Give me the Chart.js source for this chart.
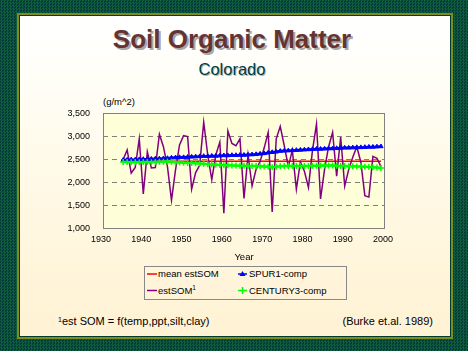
<!DOCTYPE html>
<html><head><meta charset="utf-8">
<script src="https://cdn.jsdelivr.net/npm/chart.js@4.4.1/dist/chart.umd.min.js"></script>
<style>
html,body{margin:0;padding:0;width:468px;height:351px;overflow:hidden;}
body{position:relative;background-color:#05403a;
  background-image:repeating-conic-gradient(#0f5d3a 0 25%, #023a3b 0 50%);background-size:3px 3px;
  font-family:'Liberation Sans',Arial,sans-serif;}
#panel{position:absolute;left:20px;top:16px;width:430px;height:320px;
  background:linear-gradient(to bottom,#ffffff 0%,#fffef6 22%,#fff8e2 60%,#fff2d4 100%);
  box-shadow:0 0 0 1px #033a2e,0 0 0 3px #7d8c1c;}
.abs{position:absolute;white-space:nowrap;}
#title{left:0;width:464px;top:26px;text-align:center;font:bold 26px/26px 'Liberation Sans',Arial,sans-serif;color:#663333;text-shadow:2px 2px 0 #a8a8a8;}
#sub{left:0;width:464px;top:61px;text-align:center;font:16.5px/16.5px 'Liberation Sans',Arial,sans-serif;color:#003c3c;text-shadow:1px 1px 0 #b4b4b4;}
#unit{left:103px;top:96px;font:9.5px/12px 'Liberation Sans',Arial,sans-serif;color:#000;}
#wrap{position:absolute;left:40px;top:95px;width:360px;height:170px;}
#legend{position:absolute;left:144px;top:266px;width:201px;height:32px;border:1px solid #888;}
.lt{position:absolute;white-space:nowrap;font:9.5px/12px 'Liberation Sans',Arial,sans-serif;color:#000;}
.foot{font:11px/13px 'Liberation Sans',Arial,sans-serif;color:#000;}
.sup{position:relative;top:-4px;font-size:6.5px;}
</style></head>
<body>
<div id="panel"></div>
<div id="title" class="abs">Soil Organic Matter</div>
<div id="sub" class="abs">Colorado</div>
<div id="unit" class="abs">(g/m^2)</div>
<div id="wrap"><canvas id="c" width="360" height="170"></canvas></div>
<div id="legend">
  <svg width="201" height="32" style="position:absolute;left:0;top:0">
    <line x1="2" y1="7" x2="12" y2="7" stroke="#ff0000" stroke-width="1.5"/>
    <line x1="2" y1="23.5" x2="12" y2="23.5" stroke="#800080" stroke-width="1.5"/>
    <line x1="93" y1="7" x2="102" y2="7" stroke="#0000ff" stroke-width="1.5"/>
    <polygon points="97.5,4 100.5,9 94.5,9" fill="#0000ff"/>
    <line x1="93" y1="23.5" x2="102" y2="23.5" stroke="#00ff00" stroke-width="1.5"/>
    <line x1="97.5" y1="20" x2="97.5" y2="27" stroke="#00ff00" stroke-width="1.5"/>
  </svg>
  <div class="lt" style="left:13px;top:1px">mean estSOM</div>
  <div class="lt" style="left:104px;top:1px">SPUR1-comp</div>
  <div class="lt" style="left:13px;top:17.5px">estSOM<span class="sup">1</span></div>
  <div class="lt" style="left:104px;top:17.5px">CENTURY3-comp</div>
</div>
<div class="abs foot" style="left:58px;top:315px"><span class="sup" style="font-size:7px;top:-3px">1</span>est SOM = f(temp,ppt,silt,clay)</div>
<div class="abs foot" style="right:35px;top:315px">(Burke et.al. 1989)</div>
<script>
const FIRST_YEAR = 1935;
const LAST_YEAR = 1999;
const X_TICKS = [1930, 1940, 1950, 1960, 1970, 1980, 1990, 2000];
const Y_TICKS = [1000, 1500, 2000, 2500, 3000, 3500];

// estSOM (annual, 1935-1999)
const EST_SOM = [
  2500, 2710, 2210, 2330, 2950, 1760, 2670, 2320, 2330, 3050,
  2780, 2350, 1620, 2280, 2820, 3020, 3000, 1860, 2220, 2380,
  3310, 2600, 2070, 2600, 2880, 1340, 3120, 2850, 2800, 2950,
  1660, 2600, 1930, 2290, 2460, 2750, 3090, 1370, 2950, 3220,
  2800, 2350, 2700, 1860, 2450, 2250, 1900, 2700, 3270, 1650,
  2290, 2780, 3090, 2140, 2990, 1930, 2290, 2550, 2780, 2450,
  1720, 1690, 2570, 2530, 2350
];
// SPUR1-comp (annual, 1935-1999)
const SPUR1 = [
  2490, 2495, 2500, 2500, 2505, 2510, 2510, 2515, 2520, 2520,
  2525, 2530, 2540, 2545, 2550, 2550, 2555, 2560, 2565, 2570,
  2575, 2575, 2580, 2580, 2585, 2590, 2590, 2595, 2595, 2600,
  2600, 2605, 2610, 2615, 2625, 2635, 2650, 2660, 2670, 2685,
  2690, 2695, 2700, 2705, 2710, 2715, 2720, 2725, 2730, 2730,
  2735, 2740, 2740, 2745, 2750, 2755, 2755, 2760, 2765, 2765,
  2770, 2775, 2775, 2780, 2785
];
// CENTURY3-comp (annual, 1935-1999)
const CENTURY3 = [
  2450, 2450, 2445, 2450, 2445, 2450, 2450, 2445, 2450, 2455,
  2455, 2460, 2455, 2445, 2440, 2435, 2430, 2425, 2420, 2415,
  2410, 2400, 2395, 2390, 2385, 2380, 2380, 2375, 2375, 2370,
  2370, 2365, 2360, 2360, 2355, 2350, 2345, 2335, 2345, 2355,
  2360, 2360, 2360, 2365, 2360, 2360, 2365, 2370, 2370, 2375,
  2375, 2375, 2375, 2370, 2365, 2360, 2355, 2355, 2350, 2350,
  2345, 2340, 2335, 2330, 2320
];
// mean estSOM (constant)
const MEAN_SOM = 2465;

const toXY = arr => arr.map((v, i) => ({x: FIRST_YEAR + i, y: v}));
const TICK_FONT = {family: "'Liberation Sans',Arial,sans-serif", size: 9};

const framePlugin = {
  id: 'frame',
  beforeDraw(chart) {
    const {ctx, chartArea: a} = chart;
    ctx.save();
    ctx.fillStyle = '#fefed8';
    ctx.fillRect(a.left, a.top, a.right - a.left, a.bottom - a.top);
    ctx.restore();
  },
  beforeDatasetsDraw(chart) {
    const {ctx, chartArea: a} = chart;
    ctx.save();
    ctx.strokeStyle = '#808080';
    ctx.lineWidth = 1;
    ctx.strokeRect(Math.round(a.left) + 0.5, Math.round(a.top) + 0.5, Math.round(a.right - a.left) - 1, Math.round(a.bottom - a.top) - 1);
    ctx.restore();
  }
};

new Chart(document.getElementById('c'), {
  type: 'line',
  data: {
    datasets: [
      {label: 'CENTURY3-comp', data: toXY(CENTURY3), borderColor: '#00ff00', backgroundColor: '#00ff00',
       borderWidth: 2.5, pointStyle: 'cross', pointRadius: 3, pointBorderWidth: 1.5, pointBorderColor: '#00ff00', order: 0},
      {label: 'SPUR1-comp', data: toXY(SPUR1), borderColor: '#0000ff', backgroundColor: '#0000ff',
       borderWidth: 2.5, pointStyle: 'triangle', pointRadius: 2.5, pointBorderWidth: 1, order: 1},
      {label: 'estSOM', data: toXY(EST_SOM), borderColor: '#800080', borderWidth: 1.5, pointRadius: 0, order: 2},
      {label: 'mean estSOM', data: [{x: FIRST_YEAR, y: MEAN_SOM}, {x: LAST_YEAR, y: MEAN_SOM}],
       borderColor: '#ff0000', borderWidth: 1.5, pointRadius: 0, order: 3}
    ]
  },
  options: {
    responsive: false,
    animation: false,
    devicePixelRatio: 1,
    layout: {padding: {top: 16, right: 13, bottom: 0, left: 0}},
    plugins: {legend: {display: false}, tooltip: {enabled: false}},
    elements: {line: {tension: 0}},
    scales: {
      x: {
        type: 'linear', min: 1930, max: 2000,
        afterBuildTicks: s => { s.ticks = X_TICKS.map(v => ({value: v})); },
        afterFit: s => { s.height = 36; },
        grid: {display: false, drawTicks: false},
        border: {display: false},
        ticks: {padding: 5, color: '#000', font: TICK_FONT, labelOffset: -2, maxRotation: 0, autoSkip: false,
                callback: v => String(v)},
        title: {display: true, text: 'Year', color: '#000', padding: {top: 0, bottom: 2},
                font: {family: "'Liberation Sans',Arial,sans-serif", size: 9.5}}
      },
      y: {
        min: 1000, max: 3500,
        afterBuildTicks: s => { s.ticks = Y_TICKS.map(v => ({value: v})); },
        afterFit: s => { s.width = 63; },
        grid: {drawTicks: false, lineWidth: 1,
               color: c => (c.tick && (c.tick.value === 1000 || c.tick.value === 3500)) ? 'rgba(0,0,0,0)' : '#808080'},
        border: {display: false, dash: [5, 4]},
        ticks: {padding: 13, color: '#000', font: TICK_FONT,
                callback: v => Number(v).toLocaleString('en-US')}
      }
    }
  },
  plugins: [framePlugin]
});
</script>
</body></html>
